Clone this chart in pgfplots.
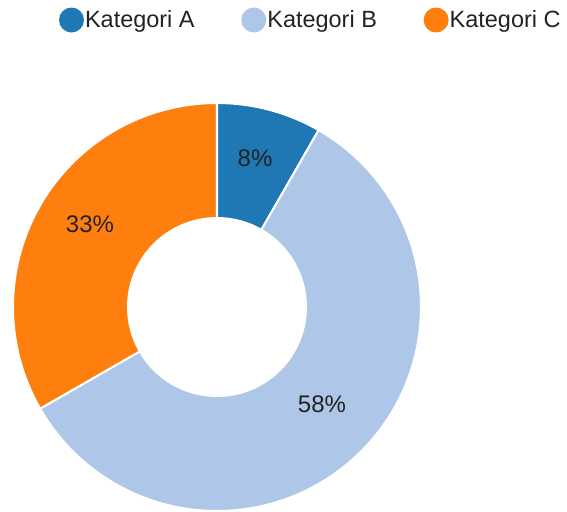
\documentclass[border=0pt]{standalone}
\usepackage{pgfplots}
\pgfplotsset{compat=1.18}
\usepackage{fontspec}
\setmainfont{Liberation Sans}
\definecolor{colA}{HTML}{1F77B4}
\definecolor{colB}{HTML}{AEC7E8}
\definecolor{colC}{HTML}{FF7F0E}
\definecolor{txt}{HTML}{222222}
\def\vA{8.3}
\def\vB{58.4}
\def\vC{33.3}
\pgfmathsetmacro\aA{3.6*\vA}
\pgfmathsetmacro\aB{\aA+3.6*\vB}
\begin{document}
\begin{tikzpicture}
\useasboundingbox (0,0) rectangle (425.25pt,383.25pt);
\begin{axis}[
  width=425.25pt, height=383.25pt, scale only axis,
  xmin=0, xmax=567, ymin=0, ymax=511, y dir=reverse,
  hide axis, clip=false,
  legend columns=3,
  legend image code/.code={\fill[#1, draw=none] (9.375pt,0pt) circle (9.375pt);},
  legend style={at={(axis cs:59,20)}, anchor=west, draw=none, fill=none,
    inner sep=0pt, outer sep=0pt,
    nodes={inner sep=0pt, text=txt},
    font=\fontsize{17.6}{20}\selectfont,
    /tikz/every odd column/.append style={column sep=0.8pt},
    /tikz/every even column/.append style={column sep=35pt}},
]
\addplot[fill=colA, draw=white, line width=1.5pt, line join=round, domain=0:\aA, samples=40]
  ({217+204*sin(x)},{307-204*cos(x)}) -- (axis cs:217,307) -- cycle;
\addlegendentry{Kategori A}
\addplot[fill=colB, draw=white, line width=1.5pt, line join=round, domain=\aA:\aB, samples=150]
  ({217+204*sin(x)},{307-204*cos(x)}) -- (axis cs:217,307) -- cycle;
\addlegendentry{Kategori B}
\addplot[fill=colC, draw=white, line width=1.5pt, line join=round, domain=\aB:360, samples=90]
  ({217+204*sin(x)},{307-204*cos(x)}) -- (axis cs:217,307) -- cycle;
\addlegendentry{Kategori C}
\addplot[fill=white, draw=none, domain=0:360, samples=121, forget plot]
  ({217+90*sin(x)},{307-90*cos(x)}) -- cycle;
\node[font=\fontsize{18}{20}\selectfont, text=txt] at (axis cs:255,158) {8\%};
\node[font=\fontsize{18}{20}\selectfont, text=txt] at (axis cs:90,224) {33\%};
\node[font=\fontsize{18}{20}\selectfont, text=txt] at (axis cs:322,404) {58\%};
\end{axis}
\end{tikzpicture}
\end{document}
